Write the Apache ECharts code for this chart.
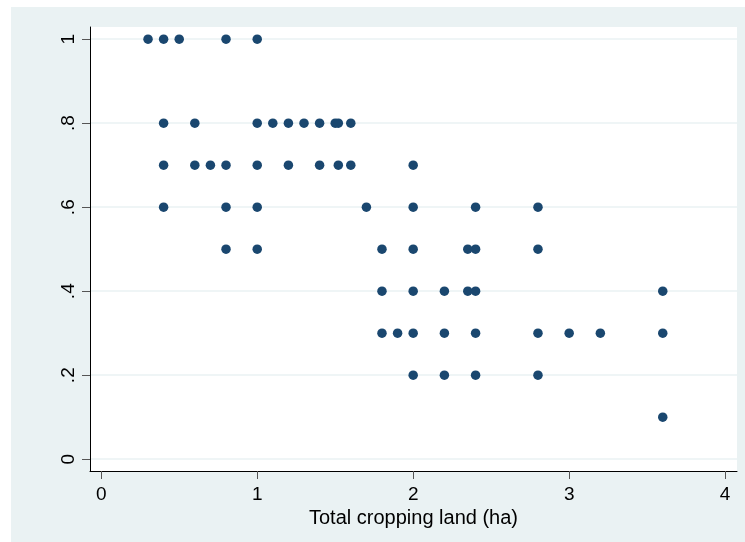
<!DOCTYPE html>
<html>
<head>
<meta charset="utf-8">
<title>Total cropping land scatter</title>
<script src="https://cdn.jsdelivr.net/npm/echarts@6/dist/echarts.min.js"></script>
<style>
  html, body { margin: 0; padding: 0; background: #ffffff; }
  #chart { position: absolute; left: 11px; top: 7px; width: 734px; height: 535px; }
</style>
</head>
<body>
<div id="chart"></div>
<script>
// Observations: total cropping land (ha) against the share value on the y axis
const landHa = [
  0.3, 0.4, 0.5, 0.8, 1.0,
  0.4, 0.6, 1.0, 1.1, 1.2, 1.3, 1.4, 1.5, 1.52, 1.6,
  0.4, 0.6, 0.7, 0.8, 1.0, 1.2, 1.4, 1.52, 1.6, 2.0,
  0.4, 0.8, 1.0, 1.7, 2.0, 2.4, 2.8,
  0.8, 1.0, 1.8, 2.0, 2.35, 2.4, 2.8,
  1.8, 2.0, 2.2, 2.35, 2.4, 3.6,
  1.8, 1.9, 2.0, 2.2, 2.4, 2.8, 3.0, 3.2, 3.6,
  2.0, 2.2, 2.4, 2.8,
  3.6
];
const shareValue = [
  1, 1, 1, 1, 1,
  0.8, 0.8, 0.8, 0.8, 0.8, 0.8, 0.8, 0.8, 0.8, 0.8,
  0.7, 0.7, 0.7, 0.7, 0.7, 0.7, 0.7, 0.7, 0.7, 0.7,
  0.6, 0.6, 0.6, 0.6, 0.6, 0.6, 0.6,
  0.5, 0.5, 0.5, 0.5, 0.5, 0.5, 0.5,
  0.4, 0.4, 0.4, 0.4, 0.4, 0.4,
  0.3, 0.3, 0.3, 0.3, 0.3, 0.3, 0.3, 0.3, 0.3,
  0.2, 0.2, 0.2, 0.2,
  0.1
];

const xTicks = [0, 1, 2, 3, 4];
const xTickLabels = ['0', '1', '2', '3', '4'];
const yTicks = [0, 0.2, 0.4, 0.6, 0.8, 1];
const yTickLabels = ['0', '.2', '.4', '.6', '.8', '1'];
const xTitle = 'Total cropping land (ha)';

function labelFor(ticks, labels) {
  return function (v) {
    const i = ticks.findIndex(t => Math.abs(t - v) < 1e-9);
    return i >= 0 ? labels[i] : '';
  };
}

const points = landHa.map((x, i) => [x, shareValue[i]]);

const FONT = '"Liberation Sans", Arial, sans-serif';
const BG = '#eaf2f3';
const NAVY = '#1a476f';

const chart = echarts.init(document.getElementById('chart'), null, { renderer: 'canvas' });
chart.setOption({
  backgroundColor: BG,
  animation: false,
  grid: {
    left: 79, right: 8, top: 20, bottom: 71,
    show: true, backgroundColor: '#ffffff', borderWidth: 0
  },
  xAxis: {
    type: 'value',
    min: -0.072,
    max: 4.076,
    name: xTitle,
    nameLocation: 'middle',
    nameGap: 33,
    nameTextStyle: { fontFamily: FONT, fontSize: 20, color: '#000' },
    axisLine: { show: true, onZero: false, lineStyle: { color: '#000', width: 1 } },
    axisTick: { show: true, length: 8, customValues: xTicks, lineStyle: { color: '#555', width: 1 } },
    axisLabel: {
      customValues: xTicks,
      formatter: labelFor(xTicks, xTickLabels),
      fontFamily: FONT, fontSize: 19, color: '#000', margin: 14
    },
    splitLine: { show: false }
  },
  yAxis: {
    type: 'value',
    min: -0.028,
    max: 1.029,
    axisLine: { show: true, onZero: false, lineStyle: { color: '#000', width: 1 } },
    axisTick: { show: true, length: 8, customValues: yTicks, lineStyle: { color: '#555', width: 1 } },
    axisLabel: {
      customValues: yTicks,
      formatter: labelFor(yTicks, yTickLabels),
      rotate: 90,
      fontFamily: FONT, fontSize: 19, color: '#000', margin: 12
    },
    splitLine: { show: true, lineStyle: { color: BG, width: 1.5 } }
  },
  series: [{
    type: 'scatter',
    data: points,
    symbol: 'circle',
    symbolSize: 9.5,
    itemStyle: { color: NAVY, opacity: 1 }
  }]
});
</script>
</body>
</html>
